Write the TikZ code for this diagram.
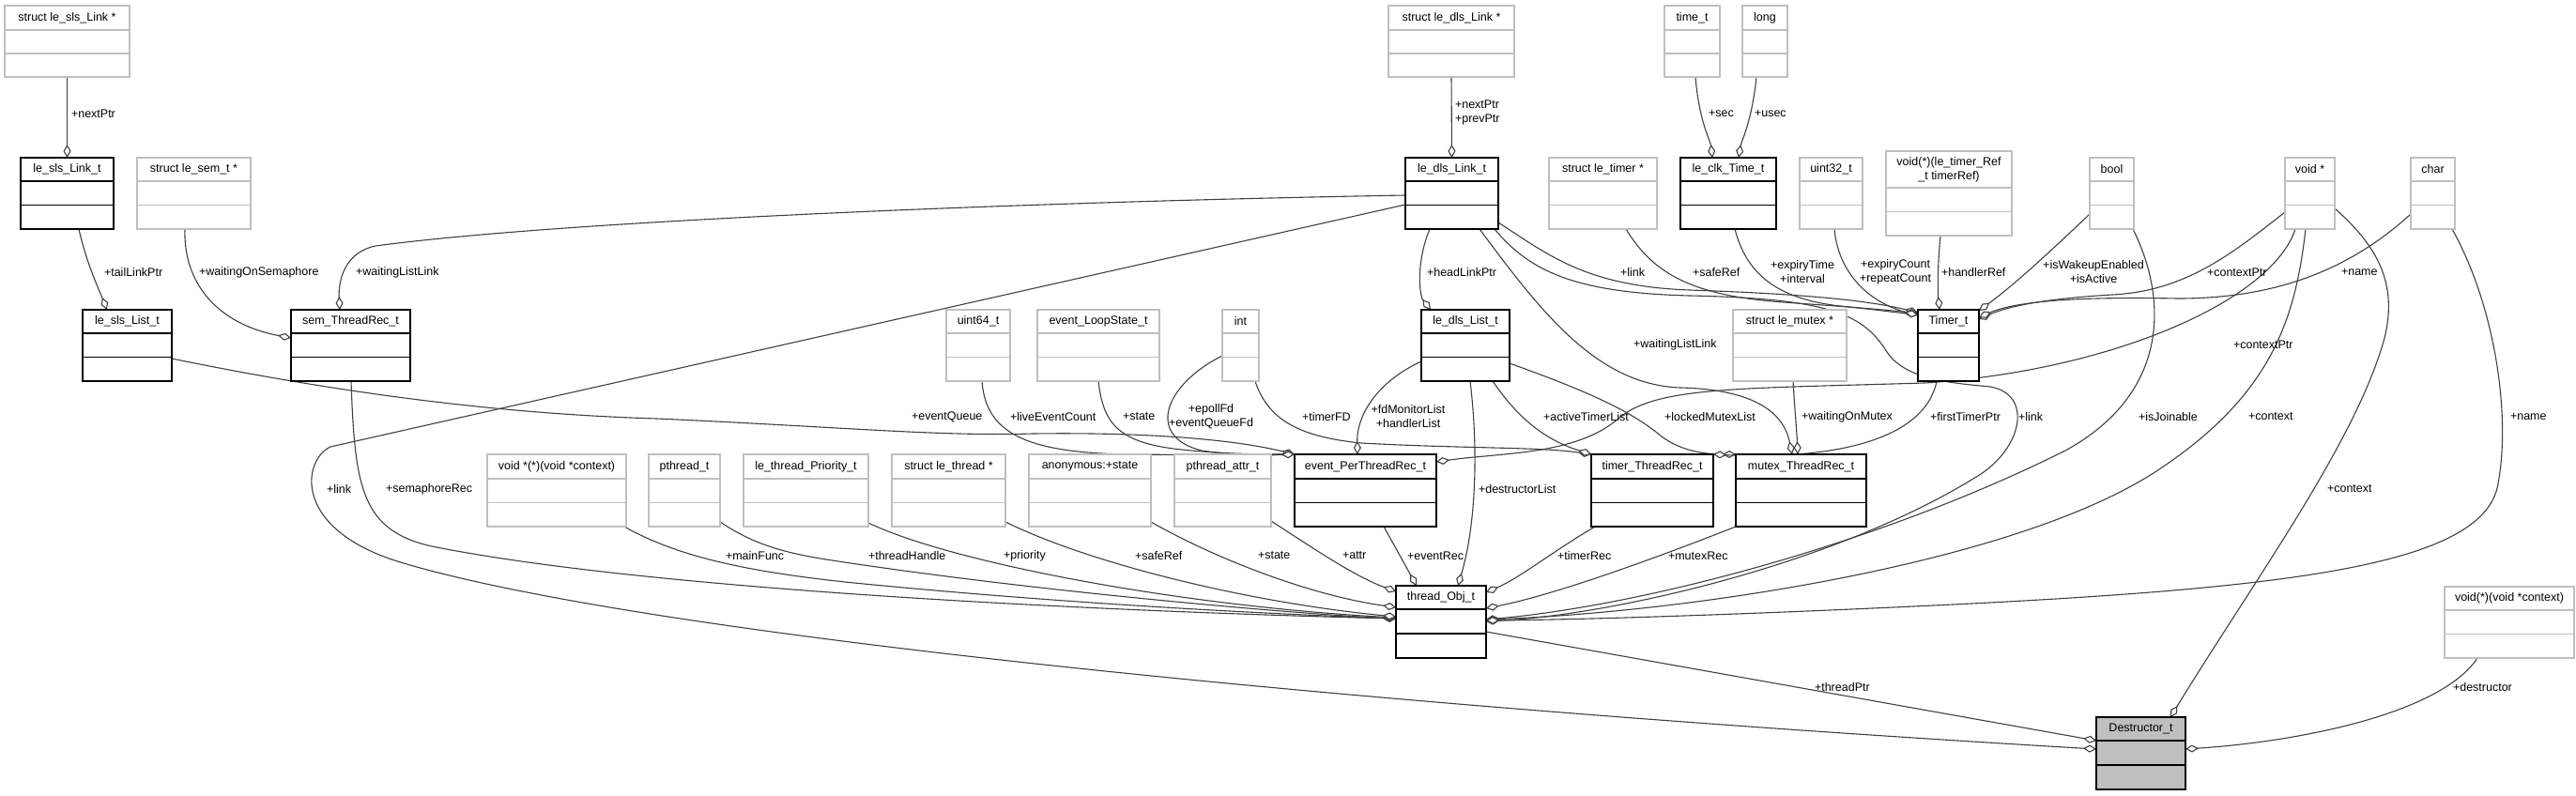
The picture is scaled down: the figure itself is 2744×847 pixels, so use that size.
\documentclass[tikz,border=0pt]{standalone}
\usepackage{fontspec}
\setmainfont{Liberation Sans}
\usetikzlibrary{arrows.meta,calc,backgrounds}
\definecolor{gb}{HTML}{BFBFBF}
\definecolor{eg}{HTML}{404040}
\definecolor{bk}{HTML}{000000}
\newcommand\clsbox[9]{%
  \node[cls=#1, fill=#2, anchor=north west, minimum width=#6pt-#4pt, minimum height=#7pt-#5pt] (#3) at (#4,#5) {};
  \draw[draw=#1, line width=1.4pt] (#4,{#5+#8}) -- (#6,{#5+#8});
  \draw[draw=#1, line width=1.4pt] (#4,{#5+#8+(#7-#5-#8)/2}) -- (#6,{#5+#8+(#7-#5-#8)/2});
  \node[lbl, align=center] at ({(#4+#6)/2},{#5+#8/2}) {#9};
}
\begin{document}
\begin{tikzpicture}[x=1pt,y=-1pt,
  lbl/.style={font=\fontsize{12.5}{15}\selectfont, inner sep=0pt, outer sep=0pt},
  cls/.style={draw=#1, line width=1.4pt, rectangle, inner sep=0pt, outer sep=0pt},
  ed/.style={draw=eg, line width=1.1pt, -{Diamond[length=14pt,width=8pt,fill=white]}},
  lab/.style={lbl, anchor=west},
  labc/.style={lbl, align=center},
  labl/.style={lbl, anchor=west, align=left}]
\useasboundingbox (0,0) rectangle (2744,847);

% ---------- classes ----------
\clsbox{gb}{white}{slsLinkPtr}{5}{6}{138}{82}{26}{struct le\_sls\_Link *}
\clsbox{bk}{white}{slsLink}{22}{168}{121}{244}{25}{le\_sls\_Link\_t}
\clsbox{gb}{white}{semPtr}{146}{168}{267}{244}{25}{struct le\_sem\_t *}
\clsbox{gb}{white}{dlsLinkPtr}{1479}{6}{1613}{82}{26}{struct le\_dls\_Link *}
\clsbox{gb}{white}{timet}{1773}{6}{1832}{82}{26}{time\_t}
\clsbox{gb}{white}{longt}{1856}{6}{1904}{82}{26}{long}
\clsbox{bk}{white}{dlsLink}{1497}{168}{1596}{244}{25}{le\_dls\_Link\_t}
\clsbox{gb}{white}{timerPtr}{1650}{168}{1765}{244}{25}{struct le\_timer *}
\clsbox{bk}{white}{clkTime}{1790}{168}{1892}{244}{25}{le\_clk\_Time\_t}
\clsbox{gb}{white}{uintt}{1917}{168}{1984}{244}{25}{uint32\_t}
\clsbox{gb}{white}{handlerFn}{2009}{161}{2143}{251}{39}{void(*)(le\_timer\_Ref\\\_t timerRef)}
\clsbox{gb}{white}{boolt}{2226}{168}{2273}{244}{25}{bool}
\clsbox{gb}{white}{voidp}{2434}{168}{2487}{244}{25}{void *}
\clsbox{gb}{white}{chart}{2568}{168}{2615}{244}{25}{char}
\clsbox{bk}{white}{slsList}{88}{330}{183}{406}{25}{le\_sls\_List\_t}
\clsbox{bk}{white}{semRec}{310}{330}{437}{406}{25}{sem\_ThreadRec\_t}
\clsbox{gb}{white}{uint64}{1008}{330}{1076}{406}{25}{uint64\_t}
\clsbox{gb}{white}{loopState}{1105}{330}{1235}{406}{25}{event\_LoopState\_t}
\clsbox{gb}{white}{intt}{1302}{330}{1341}{406}{25}{int}
\clsbox{bk}{white}{dlsList}{1514}{330}{1608}{406}{25}{le\_dls\_List\_t}
\clsbox{gb}{white}{mutexPtr}{1846}{330}{1967}{406}{25}{struct le\_mutex *}
\clsbox{bk}{white}{timer}{2043}{330}{2108}{406}{25}{Timer\_t}
\clsbox{gb}{white}{mainFn}{519}{484}{667}{561}{26}{void *(*)(void *context)}
\clsbox{gb}{white}{pthread}{691}{484}{767}{561}{26}{pthread\_t}
\clsbox{gb}{white}{prio}{792}{484}{925}{561}{26}{le\_thread\_Priority\_t}
\clsbox{gb}{white}{thrPtr}{950}{484}{1071}{561}{26}{struct le\_thread *}
\clsbox{gb}{white}{anon}{1096}{484}{1226}{561}{26}{anonymous:+state}
\clsbox{gb}{white}{attrt}{1251}{484}{1354}{561}{26}{pthread\_attr\_t}
\clsbox{bk}{white}{eventRec}{1379}{484}{1530}{561}{26}{event\_PerThreadRec\_t}
\clsbox{bk}{white}{timerRec}{1695}{484}{1825}{561}{26}{timer\_ThreadRec\_t}
\clsbox{bk}{white}{mutexRec}{1849}{484}{1988}{561}{26}{mutex\_ThreadRec\_t}
\clsbox{bk}{white}{threadObj}{1487}{624}{1583}{701}{25}{thread\_Obj\_t}
\clsbox{gb}{white}{destructorFn}{2604}{625}{2742}{701}{25}{void(*)(void *context)}
\clsbox{bk}{gb}{destructor}{2233}{764}{2328}{841}{25}{Destructor\_t}

% ---------- connectors ----------
\begin{scope}[on background layer]
\draw[ed] (slsLinkPtr.south) -- (slsLink.north);
\draw[ed] ($(slsLink.north west)+(62,76)$) .. controls (92,280) and (106,310) .. ($(slsList.north west)+(26,0)$);
\draw[ed] ($(semPtr.north west)+(51,76)$) .. controls (195,300) and (230,345) .. ($(semRec.north west)+(0,30)$);
\draw[ed] ($(dlsLink.north west)+(0,40)$) .. controls (1100,215) and (600,235) .. (400,262) .. controls (370,268) and (360,295) .. ($(semRec.north west)+(52,0)$);
\draw[ed] ($(dlsLink.north west)+(0,50)$) -- (352,476) .. controls (322,490) and (310,565) .. (430,600) .. controls (700,680) and (1500,755) .. ($(destructor.north west)+(0,34)$);
\draw[ed] ($(semRec.north west)+(64,76)$) .. controls (378,520) and (385,565) .. (460,582) .. controls (700,630) and (1200,652) .. ($(threadObj.north west)+(0,35)$);
\draw[ed] ($(mainFn.north west)+(146,77)$) .. controls (720,592) and (790,608) .. (900,620) .. controls (1150,645) and (1380,655) .. ($(threadObj.north west)+(0,35)$);
\draw[ed] ($(pthread.north west)+(76,72)$) .. controls (800,578) and (830,588) .. (880,596) .. controls (1100,630) and (1380,654) .. ($(threadObj.north west)+(0,35)$);
\draw[ed] ($(prio.north west)+(133,73)$) .. controls (1010,598) and (1250,645) .. ($(threadObj.north west)+(0,34)$);
\draw[ed] ($(thrPtr.north west)+(121,72)$) .. controls (1160,600) and (1330,642) .. ($(threadObj.north west)+(0,33)$);
\draw[ed] ($(anon.north west)+(130,72)$) .. controls (1300,598) and (1400,635) .. ($(threadObj.north west)+(0,23)$);
\draw[ed] ($(attrt.north west)+(103,71)$) .. controls (1400,585) and (1445,615) .. ($(threadObj.north west)+(0,6)$);
\draw[ed] ($(eventRec.north west)+(95,77)$) -- ($(threadObj.north west)+(22,0)$);
\draw[ed] ($(dlsList.north west)+(52,76)$) .. controls (1575,480) and (1572,560) .. ($(threadObj.north west)+(66,0)$);
\draw[ed] ($(timerRec.north west)+(4,77)$) .. controls (1650,590) and (1620,615) .. ($(threadObj.north west)+(96,7)$);
\draw[ed] ($(mutexRec.north west)+(0,77)$) .. controls (1750,600) and (1650,635) .. ($(threadObj.north west)+(96,24)$);
\draw[ed] ($(dlsLink.north west)+(95,76)$) .. controls (1630,290) and (1680,312) .. (1800,315) .. controls (1950,318) and (1985,335) .. (2010,375) .. controls (2030,405) and (2080,408) .. (2120,412) .. controls (2165,420) and (2155,475) .. (2110,505) .. controls (1960,600) and (1720,655) .. ($(threadObj.north west)+(96,38)$);
\draw[ed] ($(dlsLink.north west)+(26,76)$) .. controls (1508,280) and (1512,315) .. ($(dlsList.north west)+(10,0)$);
\draw[ed] (dlsLinkPtr.south) -- (dlsLink.north);
\draw[ed] ($(timet.north west)+(33,76)$) .. controls (1810,130) and (1822,150) .. ($(clkTime.north west)+(34,0)$);
\draw[ed] ($(longt.north west)+(15,76)$) .. controls (1866,130) and (1855,150) .. ($(clkTime.north west)+(62,0)$);
\draw[ed] ($(dlsLink.north west)+(99,69)$) .. controls (1650,272) and (1690,305) .. (1800,309) .. controls (1920,313) and (1990,320) .. ($(timer.north west)+(0,3)$);
\draw[ed] ($(timerPtr.north west)+(82,76)$) .. controls (1760,290) and (1800,315) .. (1900,322) .. controls (1970,327) and (2010,330) .. ($(timer.north west)+(0,4)$);
\draw[ed] ($(clkTime.north west)+(58,76)$) .. controls (1860,290) and (1890,318) .. (1960,326) .. controls (2000,330) and (2020,333) .. ($(timer.north west)+(0,5)$);
\draw[ed] ($(uintt.north west)+(37,76)$) .. controls (1958,290) and (1990,322) .. ($(timer.north west)+(0,6)$);
\draw[ed] ($(handlerFn.north west)+(58,90)$) .. controls (2064,280) and (2064,310) .. ($(timer.north west)+(23,0)$);
\draw[ed] ($(boolt.north west)+(0,60)$) .. controls (2190,262) and (2150,300) .. ($(timer.north west)+(65,1)$);
\draw[ed] ($(voidp.north west)+(0,58)$) .. controls (2380,268) and (2330,310) .. (2250,314) .. controls (2180,318) and (2140,326) .. ($(timer.north west)+(65,10)$);
\draw[ed] ($(chart.north west)+(0,60)$) .. controls (2500,290) and (2420,318) .. (2320,318) .. controls (2220,316) and (2150,320) .. ($(timer.north west)+(65,8)$);
\draw[ed] ($(voidp.north west)+(11,76)$) .. controls (2420,320) and (2250,395) .. (2050,408) .. controls (1850,414) and (1765,412) .. (1725,445) .. controls (1680,485) and (1600,482) .. ($(eventRec.north west)+(151,8)$);
\draw[ed] ($(boolt.north west)+(46,76)$) .. controls (2310,320) and (2310,420) .. (2200,480) .. controls (2000,580) and (1750,645) .. ($(threadObj.north west)+(96,36)$);
\draw[ed] ($(voidp.north west)+(22,76)$) .. controls (2445,340) and (2420,420) .. (2300,500) .. controls (2150,600) and (1800,652) .. ($(threadObj.north west)+(96,36)$);
\draw[ed] ($(voidp.north west)+(53,54)$) .. controls (2530,260) and (2555,300) .. (2540,360) .. controls (2510,470) and (2400,620) .. ($(destructor.north west)+(79,0)$);
\draw[ed] ($(chart.north west)+(44,76)$) .. controls (2660,330) and (2675,450) .. (2660,520) .. controls (2640,600) and (2450,625) .. (2100,643) .. controls (1900,653) and (1700,660) .. ($(threadObj.north west)+(96,37)$);
\draw[ed] ($(threadObj.north west)+(96,49)$) -- ($(destructor.north west)+(0,25)$);
\draw[ed] ($(destructorFn.north west)+(35,76)$) .. controls (2600,760) and (2450,790) .. ($(destructor.north west)+(95,34)$);
\draw[ed] ($(slsList.north west)+(95,52)$) .. controls (320,410) and (500,440) .. (700,446) .. controls (900,455) and (1000,465) .. (1100,462) .. controls (1250,460) and (1330,472) .. (eventRec.north west);
\draw[ed] ($(uint64.north west)+(38,76)$) .. controls (1050,460) and (1090,482) .. (1200,484) .. controls (1300,485) and (1350,484) .. (eventRec.north west);
\draw[ed] ($(loopState.north west)+(65,76)$) .. controls (1175,450) and (1190,470) .. (1250,478) .. controls (1300,484) and (1350,484) .. (eventRec.north west);
\draw[ed] ($(intt.north west)+(0,49)$) .. controls (1240,410) and (1220,465) .. (1280,480) .. controls (1320,486) and (1350,485) .. (eventRec.north west);
\draw[ed] ($(intt.north west)+(35,76)$) .. controls (1350,445) and (1380,465) .. (1450,472) .. controls (1560,478) and (1640,476) .. (timerRec.north west);
\draw[ed] ($(dlsList.north west)+(0,55)$) .. controls (1470,405) and (1445,440) .. ($(eventRec.north west)+(67,0)$);
\draw[ed] ($(dlsList.north west)+(76,76)$) .. controls (1620,450) and (1650,470) .. (timerRec.north west);
\draw[ed] ($(dlsList.north west)+(94,57)$) .. controls (1700,420) and (1740,440) .. (1770,465) .. controls (1790,480) and (1815,484) .. (mutexRec.north west);
\draw[ed] ($(mutexPtr.north west)+(64,76)$) .. controls (1912,440) and (1914,460) .. ($(mutexRec.north west)+(66,0)$);
\draw[ed] ($(dlsLink.north west)+(79,76)$) .. controls (1640,330) and (1700,410) .. (1790,413) .. controls (1870,415) and (1900,440) .. ($(mutexRec.north west)+(60,0)$);
\draw[ed] ($(timer.north west)+(20,76)$) .. controls (2050,470) and (1950,490) .. (timerRec.north east);
\end{scope}

% ---------- labels ----------
\node[lab] (l1) at (76,121) {+nextPtr};
\node[lab] (l2) at (111,290) {+tailLinkPtr};
\node[lab] (l3) at (212,290) {+waitingOnSemaphore};
\node[lab] (l4) at (379,290) {+waitingListLink};
\node[lab] (l5) at (348,521) {+link};
\node[lab] (l6) at (411,521) {+semaphoreRec};
\node[lab] (l7) at (773,592) {+mainFunc};
\node[lab] (l8) at (925,592) {+threadHandle};
\node[lab] (l9) at (1069,592) {+priority};
\node[lab] (l10) at (1209,592) {+safeRef};
\node[lab] (l11) at (1340,592) {+state};
\node[lab] (l12) at (1430,592) {+attr};
\node[lab] (l13) at (1499,592) {+eventRec};
\node[lab] (l14) at (1659,592) {+timerRec};
\node[lab] (l15) at (1777,592) {+mutexRec};
\node[lab] (l16) at (1575,521) {+destructorList};
\node[lab] (l17) at (1933,732) {+threadPtr};
\node[lab] (l18) at (2613,732) {+destructor};
\node[lab] (l19) at (971,444) {+eventQueue};
\node[lab] (l20) at (1076,444) {+liveEventCount};
\node[lab] (l21) at (1196,444) {+state};
\node[labc] (l22) at (1290,444) {+epollFd\\+eventQueueFd};
\node[lab] (l23) at (1387,444) {+timerFD};
\node[labc] (l24) at (1500,444) {+fdMonitorList\\+handlerList};
\node[lab] (l25) at (1644,444) {+activeTimerList};
\node[lab] (l26) at (1773,444) {+lockedMutexList};
\node[lab] (l27) at (1919,444) {+waitingOnMutex};
\node[lab] (l28) at (2056,444) {+firstTimerPtr};
\node[lab] (l29) at (2150,444) {+link};
\node[lab] (l30) at (2278,444) {+isJoinable};
\node[lab] (l31) at (2395,444) {+context};
\node[lab] (l32) at (2674,444) {+name};
\node[lab] (l33) at (1740,367) {+waitingListLink};
\node[lab] (l34) at (2379,367) {+contextPtr};
\node[lab] (l35) at (2479,521) {+context};
\node[labl] (l36) at (1550,120) {+nextPtr\\+prevPtr};
\node[lab] (l37) at (1820,121) {+sec};
\node[lab] (l38) at (1869,121) {+usec};
\node[lab] (l39) at (1520,290) {+headLinkPtr};
\node[lab] (l40) at (1726,290) {+link};
\node[lab] (l41) at (1803,290) {+safeRef};
\node[labc] (l42) at (1920,290) {+expiryTime\\+interval};
\node[labc] (l43) at (2019,290) {+expiryCount\\+repeatCount};
\node[lab] (l44) at (2068,290) {+handlerRef};
\node[labc] (l45) at (2230,290) {+isWakeupEnabled\\+isActive};
\node[lab] (l46) at (2351,290) {+contextPtr};
\node[lab] (l47) at (2494,290) {+name};
\end{tikzpicture}
\end{document}
